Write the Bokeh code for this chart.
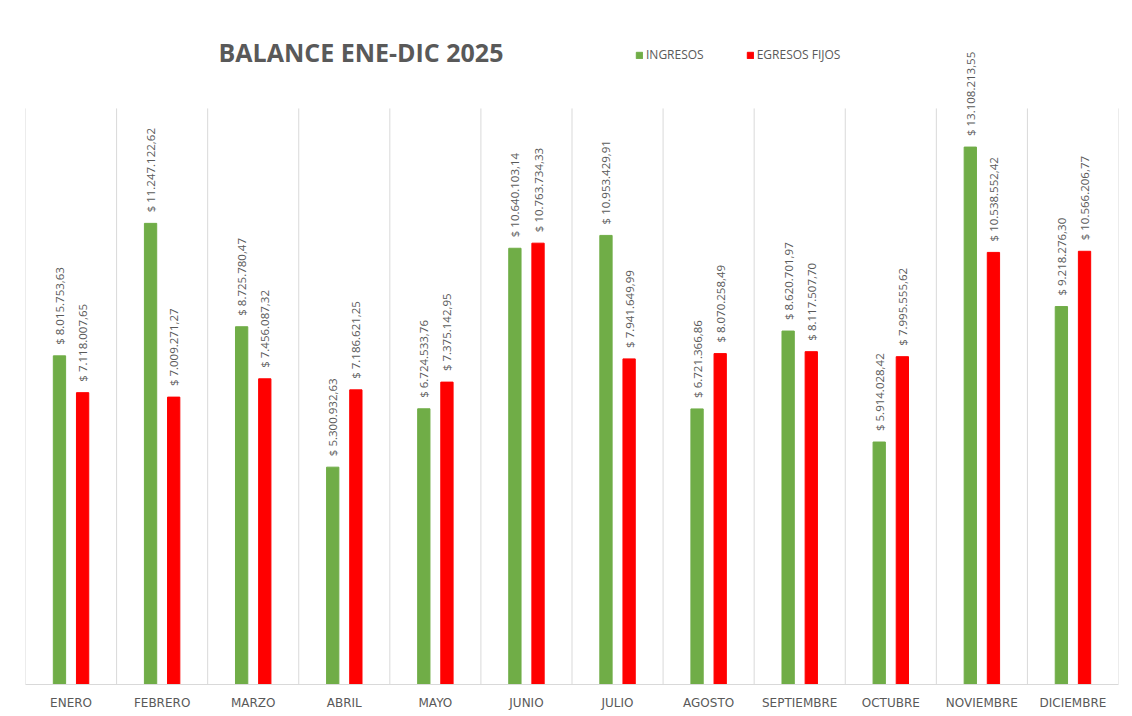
import math
from bokeh.plotting import figure
from bokeh.models import Range1d, FactorRange, Label, ColumnDataSource, BoxAnnotation
from bokeh.transform import dodge
from bokeh.core.properties import value
from bokeh.embed import file_html
from bokeh.resources import INLINE

# ---- data ----
months = ["ENERO", "FEBRERO", "MARZO", "ABRIL", "MAYO", "JUNIO", "JULIO",
          "AGOSTO", "SEPTIEMBRE", "OCTUBRE", "NOVIEMBRE", "DICIEMBRE"]
ingresos = [8015753.63, 11247122.62, 8725780.47, 5300932.63, 6724533.76, 10640103.14,
            10953429.91, 6721366.86, 8620701.97, 5914028.42, 13108213.55, 9218276.30]
egresos = [7118007.65, 7009271.27, 7456087.32, 7186621.25, 7375142.95, 10763734.33,
           7941649.99, 8070258.49, 8117507.70, 7995555.62, 10538552.42, 10566206.77]
title_text = "BALANCE ENE-DIC 2025"
series_names = ["INGRESOS", "EGRESOS FIJOS"]


def fmt(v):
    s = f"{v:,.2f}".replace(",", "X").replace(".", ",").replace("X", ".")
    return "$ " + s


GREEN = "#70AD47"
RED = "#FF0000"
GRAY = "#595959"
GRID = "#D9D9D9"

# ---- layout constants ----
W, H = 1132, 716
B_LEFT, B_RIGHT, B_TOP, B_BOTTOM = 25, 14, 18, 32
frame_h = H - B_TOP - B_BOTTOM          # 666 px
PX_PER_UNIT = 41.0 / 1e6                # px per peso
grid_top = 14.05e6                      # top of category separators
y_end = frame_h / PX_PER_UNIT

src = ColumnDataSource(dict(
    mes=months, ing=ingresos, egr=egresos,
    ing_lbl=[fmt(v) for v in ingresos], egr_lbl=[fmt(v) for v in egresos],
))

p = figure(x_range=FactorRange(*months, range_padding=0), y_range=Range1d(0, y_end),
           width=W, height=H, output_backend="svg", toolbar_location=None,
           min_border_left=B_LEFT, min_border_right=B_RIGHT,
           min_border_top=B_TOP, min_border_bottom=B_BOTTOM)
p.outline_line_color = None
p.xgrid.visible = False
p.ygrid.visible = False
p.yaxis.visible = False
p.background_fill_color = "white"
p.border_fill_color = "white"

# chart-area border
p.add_layout(BoxAnnotation(left=7, right=1145, top=10, bottom=740,
                           left_units="canvas", right_units="canvas",
                           top_units="canvas", bottom_units="canvas",
                           fill_alpha=0, line_color=GRID, line_width=1))

# category separators
n = len(months)
bounds = list(range(n + 1))
p.segment(x0=bounds, x1=bounds, y0=[0] * (n + 1), y1=[grid_top] * (n + 1),
          line_color=GRID, line_width=1, level="underlay")

off = 0.127
bw = 0.135
p.vbar(x=dodge("mes", -off, range=p.x_range), top="ing", width=bw, source=src,
       fill_color=GREEN, line_color=GREEN, legend_label=series_names[0])
p.vbar(x=dodge("mes", off, range=p.x_range), top="egr", width=bw, source=src,
       fill_color=RED, line_color=RED, legend_label=series_names[1])

lbl_kw = dict(angle=math.pi / 2, text_align="left", text_baseline="middle",
              y_offset=-11, text_font=value("Open Sans"), text_font_size="11.5px",
              text_color=GRAY, source=src)
p.text(x=dodge("mes", -off, range=p.x_range), y="ing", text="ing_lbl", **lbl_kw)
p.text(x=dodge("mes", off, range=p.x_range), y="egr", text="egr_lbl", **lbl_kw)

# x axis
ax = p.xaxis[0]
ax.axis_line_color = GRID
ax.major_tick_line_color = None
ax.minor_tick_line_color = None
ax.major_label_standoff = 5
ax.major_label_text_font = "DejaVu Sans"
ax.major_label_text_font_size = "12px"
ax.major_label_text_color = GRAY

# title
frame_bottom_page = H - B_BOTTOM
title_baseline_page = 51
title = Label(x=(218 - 25) / 91.08, y=(frame_bottom_page - title_baseline_page) / PX_PER_UNIT,
              text=title_text, text_font="Open Sans", text_font_style="bold",
              text_font_size="25px", text_color=GRAY, text_align="left",
              text_baseline="alphabetic")
p.add_layout(title)

# legend
lg = p.legend[0]
lg.orientation = "horizontal"
lg.location = (610, 621)
lg.glyph_width = 8
lg.glyph_height = 8
lg.label_height = 8
lg.label_standoff = 3
lg.spacing = 42
lg.padding = 0
lg.margin = 0
lg.border_line_color = None
lg.background_fill_alpha = 0
lg.label_text_font = "Open Sans"
lg.label_text_font_size = "12px"
lg.label_text_color = GRAY

open("out.html", "w").write(file_html(p, INLINE))
